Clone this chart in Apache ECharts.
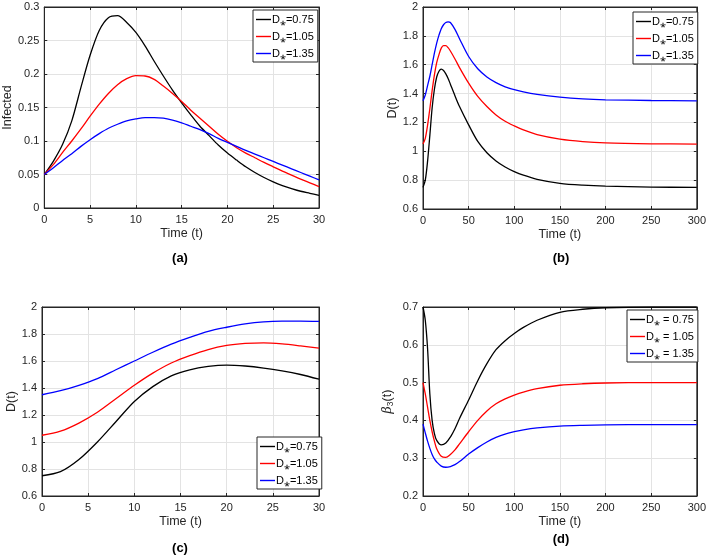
<!DOCTYPE html>
<html><head><meta charset="utf-8">
<script src="https://cdn.jsdelivr.net/npm/echarts@6/dist/echarts.min.js"></script>
<style>html,body{margin:0;padding:0;background:#fff}#c{width:709px;height:555px}</style>
</head><body><div id="c"></div>
<script>
// ---- Data ----
const tA = [0,1,2,3,4,5,6,7,8,9,10,11,12,13,14,15,16,17,18,19,20,21,22,23,24,25,26,27,28,29,30];
const infected075 = [0.05,0.07,0.095,0.13,0.18,0.228,0.265,0.284,0.287,0.277,0.262,0.242,0.219,0.197,0.176,0.157,0.139,0.122,0.108,0.094,0.082,0.0715,0.0615,0.053,0.0455,0.039,0.0335,0.029,0.025,0.022,0.019];
const infected105 = [0.05,0.065,0.083,0.100,0.118,0.137,0.155,0.171,0.184,0.193,0.1975,0.197,0.192,0.182,0.171,0.159,0.146,0.134,0.122,0.110,0.0995,0.090,0.082,0.075,0.068,0.0615,0.055,0.049,0.043,0.0375,0.032];
const infected135 = [0.05,0.060,0.071,0.081,0.092,0.102,0.111,0.119,0.125,0.130,0.133,0.135,0.135,0.134,0.131,0.127,0.122,0.117,0.111,0.104,0.098,0.092,0.086,0.0805,0.075,0.0695,0.064,0.0585,0.053,0.0475,0.042];

const tB = [0,2.5,5,7.5,10,12.5,15,17.5,20,22.5,25,27.5,30,35,40,50,60,70,80,90,100,110,125,150,175,200,250,300];
const dLong075 = [0.75,0.80,0.93,1.11,1.30,1.43,1.515,1.555,1.57,1.56,1.537,1.505,1.465,1.385,1.31,1.183,1.068,0.99,0.933,0.891,0.859,0.834,0.806,0.778,0.765,0.758,0.752,0.75];
const dLong105 = [1.05,1.09,1.18,1.295,1.42,1.53,1.615,1.67,1.715,1.732,1.732,1.718,1.695,1.64,1.58,1.472,1.38,1.31,1.252,1.208,1.176,1.148,1.115,1.084,1.067,1.058,1.052,1.05];
const dLong135 = [1.35,1.39,1.455,1.52,1.60,1.68,1.75,1.805,1.85,1.877,1.893,1.897,1.893,1.845,1.78,1.657,1.572,1.515,1.476,1.447,1.427,1.411,1.394,1.375,1.363,1.357,1.352,1.35];

const tC = [0,2,4,6,8,10,12,14,16,18,20,22,24,26,28,30];
const dShort075 = [0.75,0.78,0.87,1.0,1.15,1.30,1.41,1.49,1.535,1.56,1.57,1.563,1.548,1.527,1.50,1.465];
const dShort105 = [1.05,1.08,1.14,1.22,1.32,1.42,1.51,1.585,1.64,1.685,1.715,1.73,1.735,1.727,1.712,1.695];
const dShort135 = [1.35,1.38,1.42,1.47,1.535,1.60,1.665,1.725,1.775,1.82,1.85,1.875,1.89,1.895,1.895,1.893];

const tD = [0,2.5,5,7.5,10,12.5,15,20,25,30,35,40,50,60,70,80,90,100,110,125,150,175,200,250,300];
const beta075 = [0.70,0.665,0.59,0.47,0.40,0.365,0.347,0.335,0.34,0.356,0.378,0.405,0.454,0.505,0.55,0.587,0.611,0.630,0.646,0.665,0.686,0.694,0.698,0.70,0.70];
const beta105 = [0.50,0.47,0.435,0.40,0.37,0.345,0.325,0.305,0.302,0.31,0.322,0.338,0.37,0.40,0.425,0.444,0.457,0.467,0.475,0.484,0.493,0.497,0.499,0.50,0.50];
const beta135 = [0.39,0.367,0.345,0.326,0.31,0.298,0.29,0.279,0.276,0.278,0.283,0.291,0.311,0.328,0.343,0.355,0.364,0.37,0.375,0.38,0.385,0.387,0.388,0.389,0.389];

const namesABC = ['D\u204E=0.75','D\u204E=1.05','D\u204E=1.35'];
const namesD = ['D\u204E = 0.75','D\u204E = 1.05','D\u204E = 1.35'];
const colors = ['#000000','#ff0000','#0000ff'];
const panelLabels = ['(a)','(b)','(c)','(d)'];

// ---- Layout ----
const FONT = 'Liberation Sans, Arial, Helvetica, sans-serif';
const AX = '#262626';
const GRIDC = '#e3e3e3';
const grids = [
  {left:42, top:7, width:277, height:201},
  {left:423, top:7, width:275, height:202},
  {left:42, top:307, width:277, height:189},
  {left:423, top:307, width:275, height:189}
];
const xCfg = [
  {min:0,max:30,interval:5},
  {min:0,max:300,interval:50},
  {min:0,max:30,interval:5},
  {min:0,max:300,interval:50}
];
const yCfg = [
  {min:0,max:0.3,interval:0.05,name:'Infected',gap:28},
  {min:0.6,max:2,interval:0.2,name:'D(t)',gap:23},
  {min:0.6,max:2,interval:0.2,name:'D(t)',gap:22},
  {min:0.2,max:0.7,interval:0.1,name:'{i|\u03B2}{s|3}{n|(t)}',gap:28}
];

const xAxis = [], yAxis = [];
grids.forEach((g,i)=>{
  xAxis.push({type:'value', gridIndex:i, min:xCfg[i].min, max:xCfg[i].max, interval:xCfg[i].interval,
    name:'Time (t)', nameLocation:'middle', nameGap:19,
    nameTextStyle:{fontFamily:FONT, fontSize:12.5, color:'#262626'},
    axisLine:{show:true, lineStyle:{color:AX, width:1}},
    axisTick:{show:true, inside:true, length:3, lineStyle:{color:AX}},
    axisLabel:{fontFamily:FONT, fontSize:11, color:'#262626', margin:6},
    splitLine:{show:true, lineStyle:{color:GRIDC, width:1}}
  });
  xAxis.push({type:'value', gridIndex:i, position:'top', min:xCfg[i].min, max:xCfg[i].max, interval:xCfg[i].interval,
    axisLine:{show:true, onZero:false, lineStyle:{color:AX, width:1}},
    axisTick:{show:true, inside:true, length:3, lineStyle:{color:AX}},
    axisLabel:{show:false}, splitLine:{show:false}
  });
  yAxis.push({type:'value', gridIndex:i, min:yCfg[i].min, max:yCfg[i].max, interval:yCfg[i].interval,
    name:yCfg[i].name, nameLocation:'middle', nameGap:yCfg[i].gap, nameRotate:90,
    nameTextStyle:{fontFamily:FONT, fontSize:12.5, color:'#262626',
      rich:{i:{fontFamily:'DejaVu Serif, serif', fontStyle:'italic', fontSize:12.5, color:'#262626'},
            s:{fontFamily:FONT, fontSize:8.5, color:'#262626', padding:[6,0,0,0]},
            n:{fontFamily:FONT, fontSize:12.5, color:'#262626'}}},
    axisLine:{show:true, onZero:false, lineStyle:{color:AX, width:1}},
    axisTick:{show:true, inside:true, length:3, lineStyle:{color:AX}},
    axisLabel:{fontFamily:FONT, fontSize:11, color:'#262626', margin:5},
    splitLine:{show:true, lineStyle:{color:GRIDC, width:1}}
  });
  yAxis.push({type:'value', gridIndex:i, position:'right', min:yCfg[i].min, max:yCfg[i].max, interval:yCfg[i].interval,
    axisLine:{show:true, onZero:false, lineStyle:{color:AX, width:1}},
    axisTick:{show:true, inside:true, length:3, lineStyle:{color:AX}},
    axisLabel:{show:false}, splitLine:{show:false}
  });
});

const pair = (xs, ys) => xs.map((x,k)=>[x, ys[k]]);
const panelData = [
  [tA,[infected075,infected105,infected135],namesABC],
  [tB,[dLong075,dLong105,dLong135],namesABC],
  [tC,[dShort075,dShort105,dShort135],namesABC],
  [tD,[beta075,beta105,beta135],namesD]
];
const series = [];
panelData.forEach((p,i)=>{
  p[1].forEach((ys,j)=>{
    series.push({type:'line', name:p[2][j], xAxisIndex:2*i, yAxisIndex:2*i,
      data:pair(p[0],ys), smooth:0.3, symbol:'none', showSymbol:false,
      lineStyle:{color:colors[j], width:1.3}, itemStyle:{color:colors[j]},
      animation:false, z:3});
  });
});

const legendPos = [
  {left:253, top:10},
  {left:633, top:12},
  {left:257, top:437},
  {left:627, top:310}
];
const legend = legendPos.map((lp,i)=>({
  left:lp.left, top:lp.top, orient:'vertical',
  data:panelData[i][2].map(n=>({name:n, icon:'rect'})),
  backgroundColor:'#ffffff', borderColor:'#262626', borderWidth:1,
  padding:[4,4,3,3], itemGap:6, itemWidth:15, itemHeight:1.4,
  textStyle:{fontFamily:FONT, fontSize:11, color:'#000', padding:[0,0,0,-4]},
  selectedMode:false
}));

const labelPos = [[180,258],[561,258],[180,548],[561,539]];
const graphic = labelPos.map((lp,i)=>({
  type:'text', x:lp[0], y:lp[1], z:10,
  style:{text:panelLabels[i], font:'bold 13px '+FONT, fill:'#000',
    align:'center', verticalAlign:'middle', textAlign:'center', textVerticalAlign:'middle'}
}));

const chart = echarts.init(document.getElementById('c'), null, {renderer:'canvas'});
chart.setOption({
  animation:false,
  backgroundColor:'#ffffff',
  grid: grids.map(g=>Object.assign({show:true, borderColor:AX, borderWidth:1, backgroundColor:'#fff', containLabel:false}, g)),
  xAxis, yAxis, series, legend, graphic
});
</script></body></html>
